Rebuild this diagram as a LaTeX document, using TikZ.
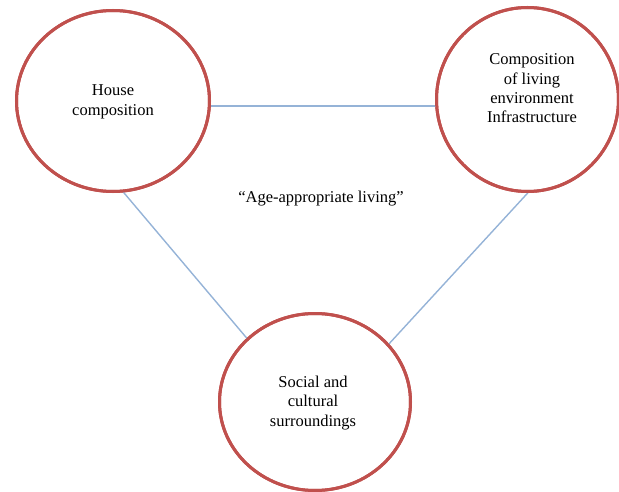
\documentclass[tikz,border=0pt]{standalone}
\usepackage{fontspec}
\setmainfont{Liberation Serif}
\usetikzlibrary{shapes.geometric}
\definecolor{ringred}{RGB}{192,80,77}
\definecolor{linkblue}{RGB}{149,179,215}
\begin{document}
\begin{tikzpicture}[x=1pt,y=1pt,
  ring/.style={ellipse,draw=ringred,line width=3pt,inner sep=0pt,outer sep=0pt},
  link/.style={draw=linkblue,line width=1.4pt},
  lbl/.style={align=center,inner sep=0pt,font=\fontsize{16.5}{19.3}\selectfont,text=black}]
\useasboundingbox (0,0) rectangle (619,-492);
% circles
\node[ring,minimum width=193pt,minimum height=181pt] (house) at (113,-101) {};
\node[ring,minimum width=182pt,minimum height=184pt] (env) at (527.5,-99.5) {};
\node[ring,minimum width=191pt,minimum height=177pt] (soc) at (315,-402) {};
% connectors
\draw[link] (house.-3.3) -- (house.-3.3 -| env.west);
\draw[link] (house.-84.3) -- (soc.137.6);
\draw[link] (env.-89.7) -- (soc.38.2);
% redraw rings above the connectors
\node[ring,minimum width=193pt,minimum height=181pt] at (house.center) {};
\node[ring,minimum width=182pt,minimum height=184pt] at (env.center) {};
\node[ring,minimum width=191pt,minimum height=177pt] at (soc.center) {};
% labels
\node[lbl] (houset) at (113,-102) {House\\composition};
\node[lbl] (envt) at (532,-88.3) {Composition\\of living\\environment\\Infrastructure};
\node[lbl] (soct) at (313,-402.8) {Social and\\cultural\\surroundings};
\node[lbl] (age) at (321,-198.4) {“Age-appropriate living”};
\end{tikzpicture}
\end{document}
